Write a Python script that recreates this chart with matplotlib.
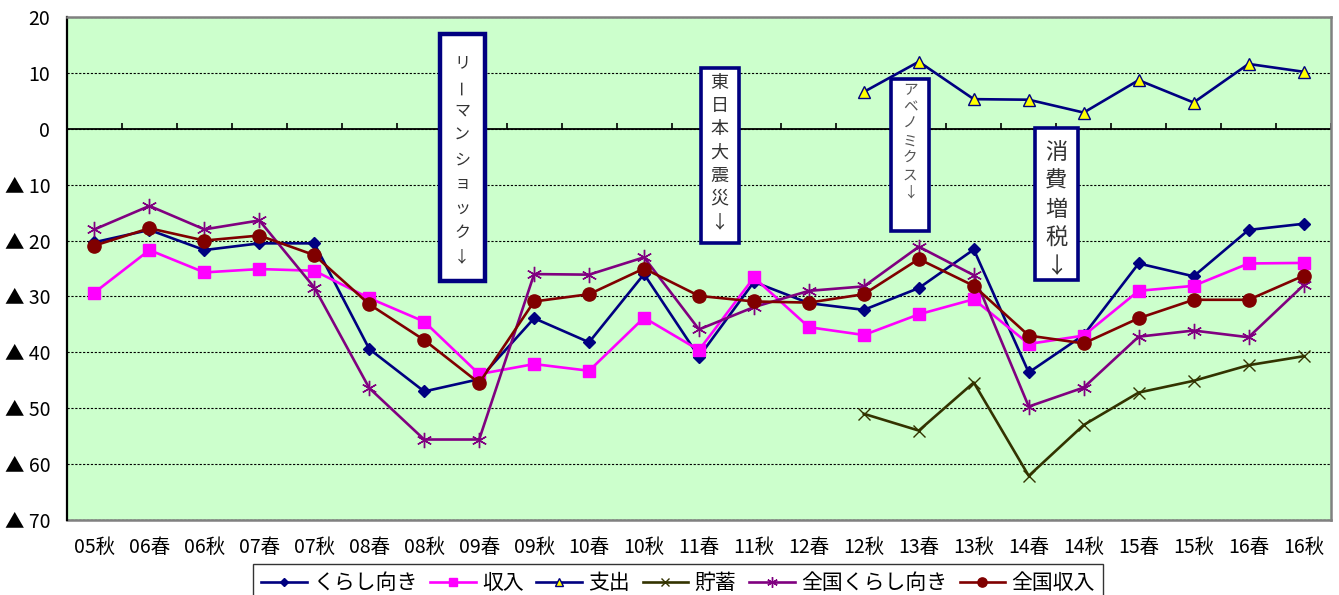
#!/usr/bin/env python3
"""Household sentiment DI: local survey vs. national, 2005 autumn - 2016 autumn."""

import matplotlib

matplotlib.use("Agg")

import matplotlib.pyplot as plt
import numpy as np
from matplotlib.patches import Rectangle

plt.rcParams["font.family"] = ["Noto Sans CJK JP", "DejaVu Sans"]

PERIODS = [
    "05秋", "06春", "06秋", "07春", "07秋", "08春", "08秋", "09春", "09秋", "10春",
    "10秋", "11春", "11秋", "12春", "12秋", "13春", "13秋", "14春", "14秋", "15春",
    "15秋", "16春", "16秋",
]

KURASHI = [-20.3, -18.1, -21.7, -20.5, -20.5, -39.4, -47.0, -44.8, -33.9, -38.2, -26.0, -40.8,
           -27.4, -31.2, -32.4, -28.5, -21.6, -43.6, -36.9, -24.1, -26.4, -18.1, -17.0]
SHUNYU = [-29.3, -21.7, -25.7, -25.1, -25.4, -30.3, -34.5, -43.9, -42.1, -43.3, -33.8, -39.6,
          -26.6, -35.5, -36.9, -33.2, -30.5, -38.5, -37.0, -29.0, -28.1, -24.1, -24.0]
# 支出 and 貯蓄 are only surveyed from 12秋 onwards
LATE_START = "12秋"
SHISHUTSU = [6.6, 12.0, 5.3, 5.2, 2.9, 8.7, 4.7, 11.6, 10.2]
CHOCHIKU = [-51.0, -54.0, -45.4, -62.1, -53.0, -47.2, -45.1, -42.3, -40.7]
ZENKOKU_KURASHI = [-18.0, -13.8, -18.0, -16.4, -28.4, -46.4, -55.6, -55.6, -26.0, -26.1, -23.0,
                   -35.9, -31.9, -29.0, -28.2, -21.1, -26.2, -49.7, -46.3, -37.2, -36.1, -37.3,
                   -28.0]
ZENKOKU_SHUNYU = [-20.9, -17.8, -20.0, -19.1, -22.6, -31.4, -37.8, -45.5, -30.9, -29.6, -25.0,
                  -29.9, -30.9, -31.1, -29.6, -23.3, -28.1, -37.0, -38.4, -33.9, -30.6, -30.6,
                  -26.3]

Y_TICKS = [20, 10, 0, -10, -20, -30, -40, -50, -60, -70]

EVENT_TEXTS = ["リーマンショック↓", "東日本大震災↓", "アベノミクス↓", "消費増税↓"]

NAVY = "#000080"


def tick_label(value):
    return f"▲ {abs(value)}" if value < 0 else str(value)


def draw_event(ax, text, xspan, yspan, first_y, step, size, color, edge_width):
    ax.add_patch(Rectangle((xspan[0], yspan[0]), xspan[1] - xspan[0], yspan[1] - yspan[0],
                           facecolor="white", edgecolor=NAVY, linewidth=edge_width, zorder=5))
    xc = (xspan[0] + xspan[1]) / 2
    for i, ch in enumerate(text):
        # vertical writing: the long-vowel mark turns upright
        ax.text(xc, first_y - i * step, ch, ha="center", va="center", fontsize=size,
                color=color, rotation=90 if ch == "ー" else 0, zorder=6)


def main():
    fig = plt.figure(figsize=(13.39, 5.95), dpi=100)
    ax = fig.add_axes([67 / 1339, 1 - 520 / 595, 1264 / 1339, 503 / 595])
    ax.set_facecolor("#CCFFCC")
    ax.set_xlim(-0.5, len(PERIODS) - 0.5)
    ax.set_ylim(-70, 20)

    x = np.arange(len(PERIODS))
    x_late = x[PERIODS.index(LATE_START):]
    lw = 1.9

    ax.plot(x, KURASHI, color=NAVY, lw=lw, marker="D", ms=6, label="くらし向き")
    ax.plot(x, SHUNYU, color="#FF00FF", lw=lw, marker="s", ms=9, label="収入")
    ax.plot(x_late, SHISHUTSU, color=NAVY, lw=lw, marker="^", ms=9, mfc="#FFFF00",
            mec=NAVY, mew=1.0, label="支出")
    ax.plot(x_late, CHOCHIKU, color="#333300", lw=lw, marker="x", ms=9, mew=1.0, label="貯蓄")
    ax.plot(x, ZENKOKU_KURASHI, color="#800080", lw=lw, marker=(6, 2, 0), ms=11, mew=1.0,
            label="全国くらし向き")
    ax.plot(x, ZENKOKU_SHUNYU, color="#800000", lw=lw, marker="o", ms=9.5, label="全国収入")

    # value axis
    ax.set_yticks(Y_TICKS, [tick_label(v) for v in Y_TICKS])
    ax.tick_params(axis="y", length=0, pad=12, labelsize=14)
    ax.yaxis.grid(True, color="black", linestyle=(0, (2, 1.5)), linewidth=0.8)
    ax.set_axisbelow(True)

    # category axis crosses at zero, tick marks between categories
    ax.spines["bottom"].set_position(("data", 0))
    ax.spines["bottom"].set_color("black")
    ax.spines["bottom"].set_linewidth(1.3)
    ax.spines["bottom"].set_zorder(1.5)
    ax.set_xticks(np.arange(len(PERIODS) + 1) - 0.5)
    ax.tick_params(axis="x", direction="in", length=4, width=1.2, labelbottom=False)

    ax.spines["left"].set_color("black")
    ax.spines["left"].set_linewidth(1.6)
    for side in ("top", "right"):
        ax.spines[side].set_color("#808080")
        ax.spines[side].set_linewidth(1.8)

    labels_axis = ax.secondary_xaxis(0)
    labels_axis.set_xticks(x, PERIODS)
    labels_axis.tick_params(length=0, pad=12, labelsize=14)
    labels_axis.spines["bottom"].set_color("#808080")
    labels_axis.spines["bottom"].set_linewidth(1.8)

    draw_event(ax, EVENT_TEXTS[0], (6.28, 7.10), (-27.2, 17.0), 11.8, 4.33, 11.5, "#333333", 3.2)
    draw_event(ax, EVENT_TEXTS[1], (11.03, 11.72), (-20.4, 10.9), 8.2, 4.15, 13, "#333333", 2.6)
    draw_event(ax, EVENT_TEXTS[2], (14.50, 15.18), (-18.3, 8.9), 6.9, 3.04, 10.5, "#555555", 2.6)
    draw_event(ax, EVENT_TEXTS[3], (17.11, 17.89), (-27.1, 0.14), -4.3, 5.1, 16, "#333333", 2.6)

    handles, labels = ax.get_legend_handles_labels()
    leg = fig.legend(handles, labels, loc="upper center", bbox_to_anchor=(678 / 1339, 1 - 564 / 595),
                     ncol=6, fontsize=15, frameon=True, fancybox=False, edgecolor="black",
                     handlelength=2.2, handletextpad=0.3, columnspacing=0.6, borderpad=0.4,
                     borderaxespad=0, markerscale=0.7)
    leg.get_frame().set_linewidth(1.0)

    fig.savefig("out.png", dpi=100)
    plt.close(fig)


if __name__ == "__main__":
    main()
